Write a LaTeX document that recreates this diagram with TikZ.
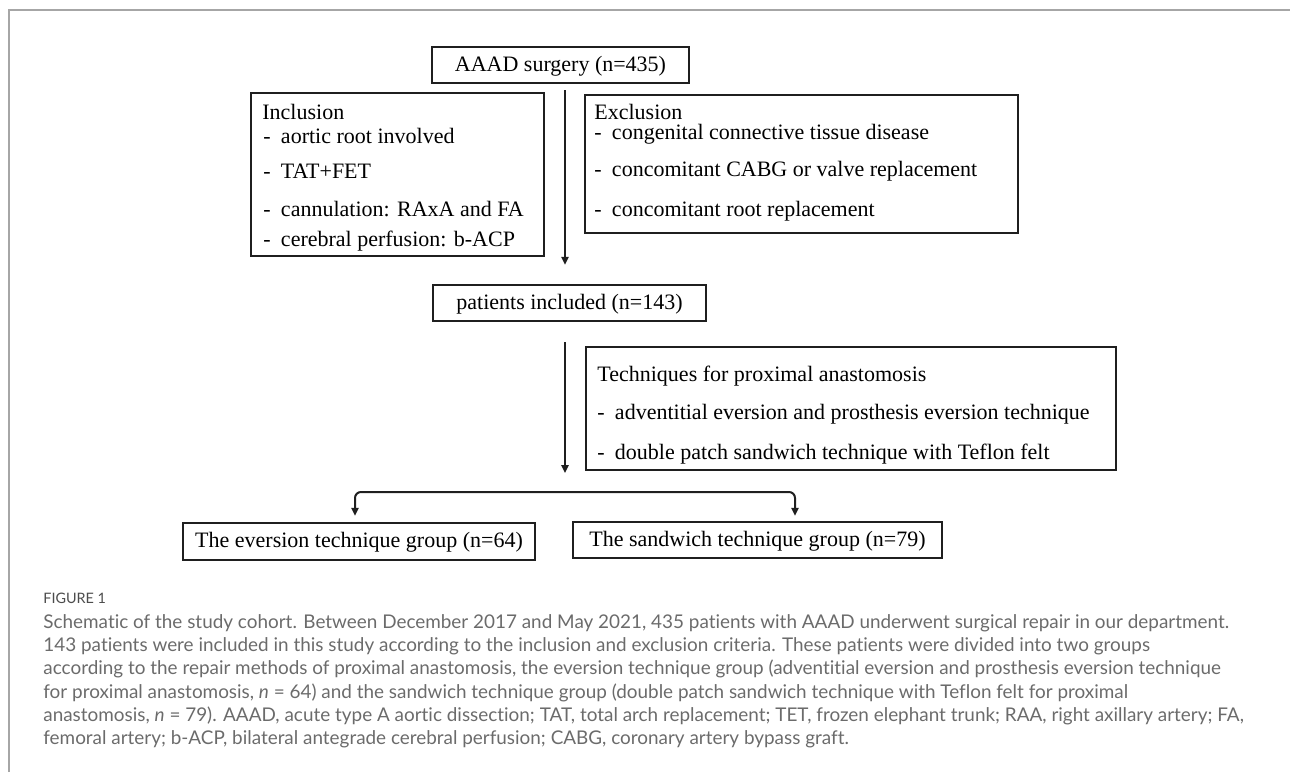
\documentclass[tikz,border=0pt]{standalone}
\usepackage{fontspec}
\setmainfont{Liberation Serif}
\newfontfamily\capfont[Ligatures={NoCommon,NoRare}]{Lato}
\usetikzlibrary{arrows.meta}
\begin{document}
\begin{tikzpicture}[x=0.5pt,y=-0.5pt,
  box/.style={draw=black!88, line width=1.25pt, inner sep=0pt},
  txt/.style={font=\fontsize{11}{13}\selectfont, inner sep=0pt, anchor=west, text height=0.75em, text depth=0.15em},
  ctxt/.style={font=\fontsize{11}{13}\selectfont, text height=0.75em, text depth=0.15em},
  conn/.style={draw=black!88, line width=1pt},
  arr/.style={conn, -{Triangle[length=4pt,width=3.6pt]}},
  captxt/.style={font=\capfont\fontsize{9.45}{11}\selectfont, text=black!58, inner sep=0pt, anchor=west, text height=0.72em, text depth=0.2em},
  framel/.style={draw=black!35, line width=1pt}
]
\useasboundingbox (0,0) rectangle (1290,772);
% frame
\coordinate (ftl) at (9,10);
\coordinate (ftr) at (1290,10);
\coordinate (fbl) at (9,772);
\draw[framel] (fbl) -- (ftl) -- (ftr);

% boxes
\node[box, ctxt, minimum width=128.5pt, minimum height=18pt] (aaad) at (560.5,65) {AAAD surgery (n=435)};
\node[box, minimum width=146.5pt, minimum height=81.5pt] (incl) at (397.5,174.5) {};
\node[box, minimum width=216.5pt, minimum height=69pt] (excl) at (801.5,164) {};
\node[box, ctxt, minimum width=136.5pt, minimum height=18pt] (pat) at (569.5,303) {patients included (n=143)};
\node[box, minimum width=265pt, minimum height=61.5pt] (tech) at (851,408.5) {};
\node[box, ctxt, minimum width=176pt, minimum height=18.5pt] (ever) at (359,541.5) {The eversion technique group (n=64)};
\node[box, ctxt, minimum width=184.5pt, minimum height=18pt] (sand) at (757.5,540) {The sandwich technique group (n=79)};

% inclusion text
\newcommand{\dsh}{\makebox[0.8em][l]{-}}
\node[txt] (i0) at (262,113) {Inclusion};
\node[txt] (i1) at (263,137) {\dsh aortic root involved};
\node[txt] (i2) at (263,172) {\dsh TAT+FET};
\node[txt] (i3) at (263,210) {\dsh cannulation: RAxA and FA};
\node[txt] (i4) at (263,240) {\dsh cerebral perfusion: b-ACP};

% exclusion text
\node[txt] (e0) at (594,113) {Exclusion};
\node[txt] (e1) at (594,133) {\dsh congenital connective tissue disease};
\node[txt] (e2) at (594,170) {\dsh concomitant CABG or valve replacement};
\node[txt] (e3) at (594,210) {\dsh concomitant root replacement};

% techniques text
\node[txt] (t0) at (597,375) {Techniques for proximal anastomosis};
\node[txt] (t1) at (597,413) {\dsh adventitial eversion and prosthesis eversion technique};
\node[txt] (t2) at (597,453) {\dsh double patch sandwich technique with Teflon felt};

% connectors
\coordinate (mx) at (565,0);
\coordinate (bl) at (355,492);
\coordinate (br) at (795,492);
\coordinate (bm) at (565,492);
\draw[arr, shorten <=3pt, shorten >=9.5pt] (aaad.south -| mx) -- (pat.north -| mx);
\draw[arr, shorten <=10pt, shorten >=9.5pt] (pat.south -| mx) -- (bm);
\draw[conn, rounded corners=3pt, {Triangle[length=4pt,width=3.6pt]}-{Triangle[length=4pt,width=3.6pt]}, shorten <=3pt, shorten >=2.5pt] (ever.north -| bl) -- (bl) -- (br) -- (sand.north -| br);

% caption
\node[font=\capfont\fontsize{7.2}{9}\selectfont, text=black!70, inner sep=0pt, anchor=west, text height=0.72em, text depth=0.2em] (fig) at (43,598) {FIGURE 1};
\node[captxt] (c1) at (43,623) {Schematic of the study cohort. Between December 2017 and May 2021, 435 patients with AAAD underwent surgical repair in our department.};
\node[captxt] (c2) at (43,646.3) {143 patients were included in this study according to the inclusion and exclusion criteria. These patients were divided into two groups};
\node[captxt] (c3) at (43,669.6) {according to the repair methods of proximal anastomosis, the eversion technique group (adventitial eversion and prosthesis eversion technique};
\node[captxt] (c4) at (43,692.9) {for proximal anastomosis, \textit{n} = 64) and the sandwich technique group (double patch sandwich technique with Teflon felt for proximal};
\node[captxt] (c5) at (43,716.2) {anastomosis, \textit{n} = 79). AAAD, acute type A aortic dissection; TAT, total arch replacement; TET, frozen elephant trunk; RAA, right axillary artery; FA,};
\node[captxt] (c6) at (43,739.5) {femoral artery; b-ACP, bilateral antegrade cerebral perfusion; CABG, coronary artery bypass graft.};
\end{tikzpicture}
\end{document}
